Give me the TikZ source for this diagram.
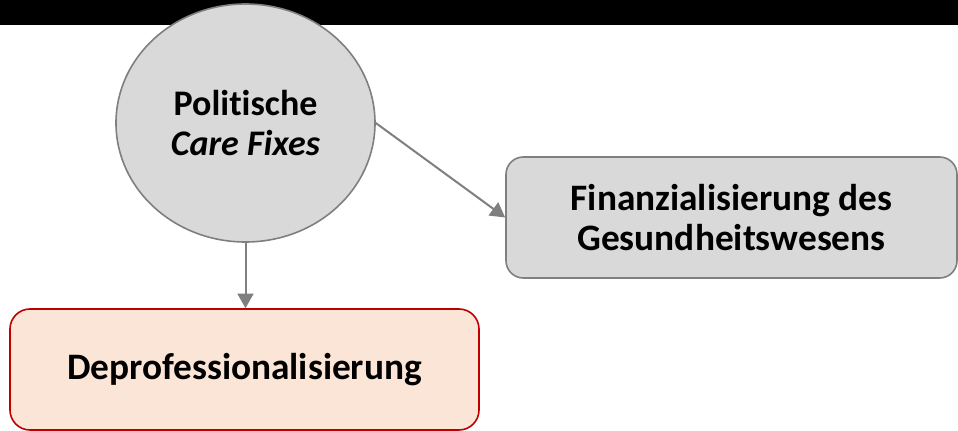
\documentclass[tikz,border=0pt]{standalone}
\usepackage{fontspec}
\setmainfont{Carlito}[Ligatures=NoCommon]
\usetikzlibrary{shapes.geometric,arrows.meta}
\definecolor{boxgray}{HTML}{D9D9D9}
\definecolor{linegray}{HTML}{7F7F7F}
\definecolor{pinkfill}{HTML}{FBE5D6}
\definecolor{darkred}{HTML}{C00000}
\tikzset{
  circnode/.style={ellipse, draw=linegray, fill=boxgray, line width=1.2pt, minimum width=194.25pt, minimum height=178.5pt, inner sep=0pt, align=center, font=\fontsize{27}{29.5}\selectfont\bfseries},
  graybox/.style={rectangle, rounded corners=13pt, draw=linegray, fill=boxgray, line width=1.2pt, minimum width=338.25pt, minimum height=90.75pt, inner sep=0pt, align=center, font=\fontsize{28}{29.6}\selectfont\bfseries},
  pinkbox/.style={rectangle, rounded corners=15pt, draw=darkred, fill=pinkfill, line width=1.2pt, minimum width=351.75pt, minimum height=90.75pt, inner sep=0pt, align=center, font=\fontsize{28}{29.6}\selectfont\bfseries},
  conn/.style={draw=linegray, line width=1.5pt, -{Triangle[length=11pt,width=12pt]}}
}
\begin{document}
\begin{tikzpicture}[x=0.75pt,y=-0.75pt]
\useasboundingbox (0,0) rectangle (958,431);
\fill[black] (0,0) rectangle (958,25);
\node[circnode] (circ) at (245.5,123) {Politische\\\textit{Care Fixes}};
\node[graybox] (fin) at (731.5,217.5) {Finanzialisierung des\\Gesundheitswesens};
\node[pinkbox] (depro) at (244.5,369.5) {Deprofessionalisierung};
\draw[conn] (circ.south) -- (circ.south |- depro.north);
\draw[conn] (circ.east) -- (fin.west);
\end{tikzpicture}
\end{document}
